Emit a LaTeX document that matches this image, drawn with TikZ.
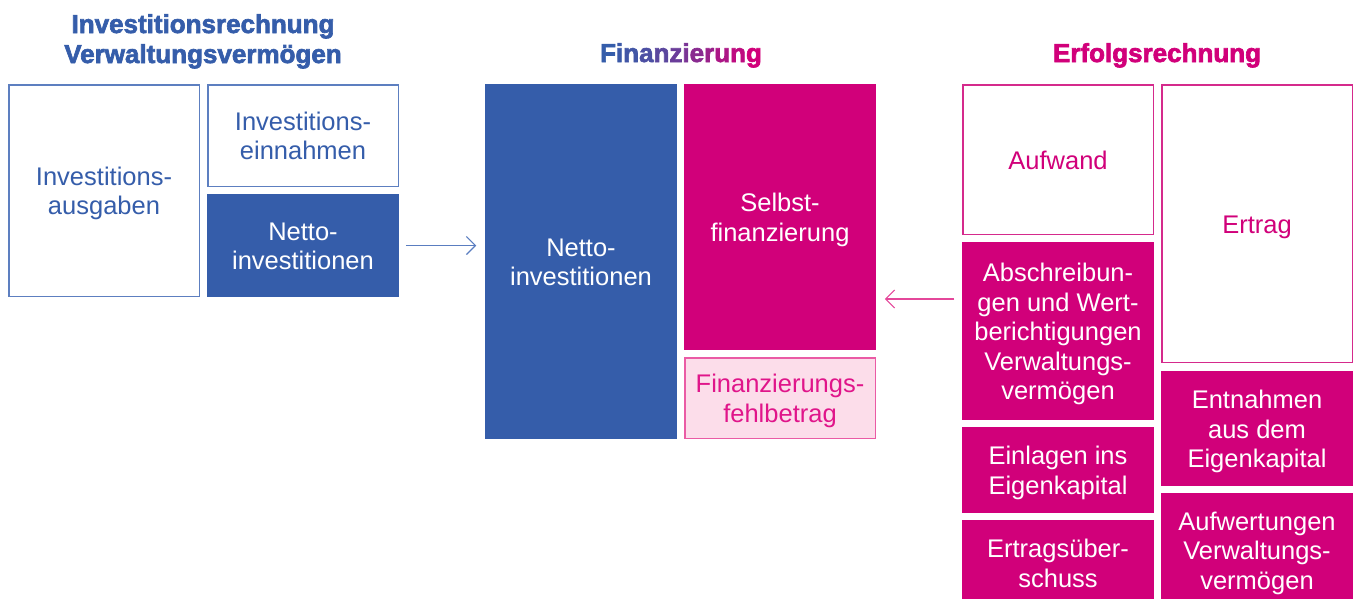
\documentclass[tikz,border=0pt]{standalone}
\usepackage{fontspec}
\setmainfont{Liberation Sans}
\newfontfamily\heavyfont{Liberation Sans}[BoldFeatures={FakeBold=2.5}]
\usetikzlibrary{arrows.meta}

\definecolor{cblue}{HTML}{355DAA}
\definecolor{bline}{HTML}{5D7FC0}
\definecolor{cmag}{HTML}{D1007A}
\definecolor{mline}{HTML}{D52A8C}
\definecolor{cpink}{HTML}{FCDDEA}
\definecolor{pline}{HTML}{EA5BA5}
\definecolor{ptext}{HTML}{E0158A}
\definecolor{ablue}{HTML}{5A7DC0}
\definecolor{amag}{HTML}{E4479A}

\newcommand\bodyfont{\fontsize{25.5}{29.5}\selectfont\lineskiplimit=-50pt}
\newcommand\headfont{\heavyfont\bfseries\fontsize{26}{30}\selectfont}
% fixed line box so that every label is centred on its capitals
\newcommand\linestrut{\rule[-5.6pt]{0pt}{30.3pt}}
% line break that keeps the fixed line box
\newcommand\nl{\linestrut\\}
% one letter of the blue-to-magenta heading
\newcommand\gl[2]{\textcolor{cmag!#1!cblue}{#2}}

\tikzset{
  base/.style={rectangle, inner sep=0pt, align=center, font=\bodyfont, line width=1.5pt,
    execute at begin node=\linestrut, execute at end node=\linestrut},
  bw/.style={base, draw=bline, fill=white, text=cblue},
  bf/.style={base, fill=cblue, text=white},
  mw/.style={base, draw=mline, fill=white, text=cmag},
  mf/.style={base, fill=cmag, text=white},
  pk/.style={base, draw=pline, fill=cpink, text=ptext},
  head/.style={anchor=base, inner sep=0pt, font=\headfont},
  arr/.style={line width=1.2pt, -{Straight Barb[length=9pt,width=18pt,line width=1.2pt]}},
}

\begin{document}
\begin{tikzpicture}[x=1pt,y=-1pt]
\useasboundingbox (0,0) rectangle (1357,598);
\clip (0,0) rectangle (1357,598);

% headings
\node[head, text=cblue] (h1a) at (203,33) {Investitionsrechnung};
\node[head, text=cblue] (h1b) at (203,63) {Verwaltungsvermögen};
\node[head] (h2) at (681,62) {\gl{0}{F}\gl{4}{i}\gl{8}{n}\gl{15}{a}\gl{24}{n}\gl{34}{z}\gl{44}{i}\gl{54}{e}\gl{64}{r}\gl{76}{u}\gl{88}{n}\gl{100}{g}};
\node[head, text=cmag] (h3) at (1157,62) {Erfolgsrechnung};

% investment account
\node[bw, minimum width=190.5pt, minimum height=211.5pt] (ausg) at (104,190.5) {Investitions-\nl ausgaben};
\node[bw, minimum width=190.5pt, minimum height=101.5pt] (einn) at (303,135.5) {Investitions-\nl einnahmen};
\node[bf, minimum width=192pt, minimum height=103pt] (nets) at (303,245.5) {Netto-\nl investitionen};

% financing
\node[bf, minimum width=192pt, minimum height=355pt] (netb) at (581,261.5) {Netto-\nl investitionen};
\node[mf, minimum width=192pt, minimum height=266pt] (selb) at (780,217) {Selbst-\nl finanzierung};
\node[pk, minimum width=190.5pt, minimum height=80.5pt] (fehl) at (780,398) {Finanzierungs-\nl fehlbetrag};

% operating account
\node[mw, minimum width=190.5pt, minimum height=149.5pt] (aufw) at (1058,159.5) {Aufwand};
\node[mf, minimum width=192pt, minimum height=178pt] (absc) at (1058,331) {Abschreibun-\nl gen und Wert-\nl berichtigungen\nl Verwaltungs-\nl vermögen};
\node[mf, minimum width=192pt, minimum height=86pt] (einl) at (1058,470) {Einlagen ins\nl Eigenkapital};
\node[mf, minimum width=192pt, minimum height=86pt] (erue) at (1058,563) {Ertragsüber-\nl schuss};

\node[mw, minimum width=190.5pt, minimum height=277.5pt] (ertr) at (1257,223.5) {Ertrag};
\node[mf, minimum width=192pt, minimum height=115pt] (entn) at (1257,428.5) {Entnahmen\nl aus dem\nl Eigenkapital};
\node[mf, minimum width=192pt, minimum height=114pt] (aufv) at (1257,550) {Aufwertungen\nl Verwaltungs-\nl vermögen};

% connectors
\draw[arr, draw=ablue, shorten <=6pt, shorten >=8pt] (nets.east) -- (nets.east -| netb.west);
\draw[arr, draw=amag, shorten <=7pt, shorten >=8pt] ([yshift=32pt]absc.west) coordinate (m) -- (m -| selb.east);
\end{tikzpicture}
\end{document}
